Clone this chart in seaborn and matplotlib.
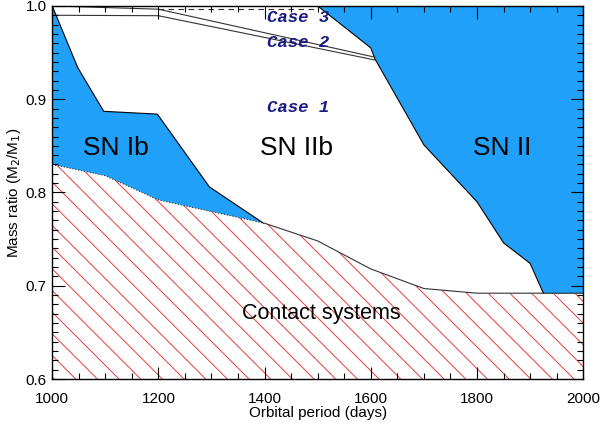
import numpy as np
import pandas as pd
import matplotlib
matplotlib.use("Agg")
import matplotlib.pyplot as plt
import seaborn as sns
from matplotlib.ticker import MultipleLocator, FormatStrFormatter

# Datos leidos de la figura
# borde superior de la region de contacto
period_contact = [1000, 1100, 1200, 1400, 1500, 1600, 1700, 1800, 2000]
q_contact = [0.830, 0.818, 0.792, 0.767, 0.748, 0.718, 0.697, 0.692, 0.692]

# borde de SN Ib
period_ib = [1000, 1048, 1097, 1198, 1296, 1398]
q_ib = [1.000, 0.934, 0.887, 0.884, 0.806, 0.767]

# borde de SN II
period_ii = [1500, 1600, 1608, 1700, 1800, 1850, 1900, 1925]
q_ii = [1.000, 0.955, 0.943, 0.851, 0.790, 0.746, 0.724, 0.692]

# lineas de los casos
period_case = [1000, 1200, 1608]
q_case_up = [1.000, 0.9965, 0.945]
q_case_low = [0.990, 0.9895, 0.942]
period_case3 = [1200, 1500]
q_case3 = [0.997, 0.997]

labels_case = ["Case 3", "Case 2", "Case 1"]
q_labels_case = [0.988, 0.961, 0.891]

regions = ["SN Ib", "SN IIb", "SN II"]
period_regions = [1120, 1460, 1848]
q_region = 0.848

blue = "#20A0F8"

# dpi bajo para que el rayado quede con la separacion del original;
# k pasa de tamaños "a 100 dpi" a puntos reales
DPI = 65
k = 100 / DPI

sns.set_style("ticks")
plt.rcParams["font.family"] = ["Liberation Sans", "DejaVu Sans"]
plt.rcParams["hatch.linewidth"] = 0.65 * k
plt.rcParams["text.color"] = "black"
plt.rcParams["axes.labelcolor"] = "black"
plt.rcParams["xtick.color"] = "black"
plt.rcParams["ytick.color"] = "black"

fig = plt.figure(figsize=(600 / DPI, 423 / DPI), dpi=DPI)
ax = fig.add_axes([0.087, 0.104, 0.885, 0.882])
ax.set_axisbelow(False)

# Sistemas de contacto (rayado)
ax.fill_between(period_contact, 0.6, q_contact, facecolor="white",
                edgecolor="#E8302C", hatch="\\", linewidth=0, zorder=1)

# SN Ib
ib_x = np.concatenate([period_ib, period_contact[3::-1]])
ib_y = np.concatenate([q_ib, q_contact[3::-1]])
ax.fill(ib_x, ib_y, color=blue, lw=0, zorder=1.2)

# SN II
ax.fill_betweenx(q_ii + [q_contact[-1]], period_ii + [2000], 2000,
                 color=blue, lw=0, zorder=1.2)

# Bordes
lw = 0.8 * k
df_c = pd.DataFrame({"p": period_contact, "q": q_contact})
sns.lineplot(data=df_c[df_c.p >= 1398], x="p", y="q", sort=False,
             estimator=None, color="#333333", lw=lw, ax=ax, zorder=1.5)
sns.lineplot(data=df_c[df_c.p <= 1400], x="p", y="q", sort=False,
             estimator=None, color="#333333", lw=lw, ls=":", ax=ax, zorder=1.5)
sns.lineplot(x=period_ib, y=q_ib, sort=False, estimator=None,
             color="black", lw=lw, ax=ax, zorder=1.5)
sns.lineplot(x=period_ii, y=q_ii, sort=False, estimator=None,
             color="black", lw=lw, ax=ax, zorder=1.5)
sns.lineplot(x=period_case, y=q_case_up, sort=False, estimator=None,
             color="#333333", lw=lw, ax=ax, zorder=1.5)
sns.lineplot(x=period_case, y=q_case_low, sort=False, estimator=None,
             color="#333333", lw=lw, ax=ax, zorder=1.5)
sns.lineplot(x=period_case3, y=q_case3, sort=False, estimator=None,
             color="#333333", lw=lw, ls=(0, (5, 4)), ax=ax, zorder=1.5)

# Textos
for lab, q in zip(labels_case, q_labels_case):
    ax.text(1463, q, lab, color="#1a1a80", fontsize=12.5 * k,
            family="Liberation Mono", fontweight="bold", fontstyle="italic",
            ha="center", va="center", zorder=4)
for lab, p in zip(regions, period_regions):
    ax.text(p, q_region, lab, fontsize=19 * k, ha="center", va="center",
            zorder=4)
ax.text(1507, 0.670, "Contact systems", fontsize=15.5 * k, ha="center",
        va="center", zorder=4)

ax.set_xlim(1000, 2000)
ax.set_ylim(0.6, 1.0)
ax.xaxis.set_major_locator(MultipleLocator(200))
ax.xaxis.set_minor_locator(MultipleLocator(50))
ax.yaxis.set_major_locator(MultipleLocator(0.1))
ax.yaxis.set_minor_locator(MultipleLocator(0.01))
ax.yaxis.set_major_formatter(FormatStrFormatter("%.1f"))
ax.tick_params(which="both", direction="in", top=True, right=True,
               labelsize=11 * k, width=0.8 * k)
ax.tick_params(axis="x", pad=9 * k)
ax.tick_params(axis="y", pad=4 * k)
ax.tick_params(which="major", length=9 * k)
ax.tick_params(which="minor", length=4.5 * k)
for s in ax.spines.values():
    s.set_linewidth(1.0 * k)
    s.set_color("black")
    s.set_zorder(5)
ax.set_xlabel("Orbital period (days)", fontsize=11 * k, labelpad=0)
ax.set_ylabel("Mass ratio (M$_2$/M$_1$)", fontsize=11 * k, labelpad=2 * k)

fig.savefig("out.png", dpi=DPI)
